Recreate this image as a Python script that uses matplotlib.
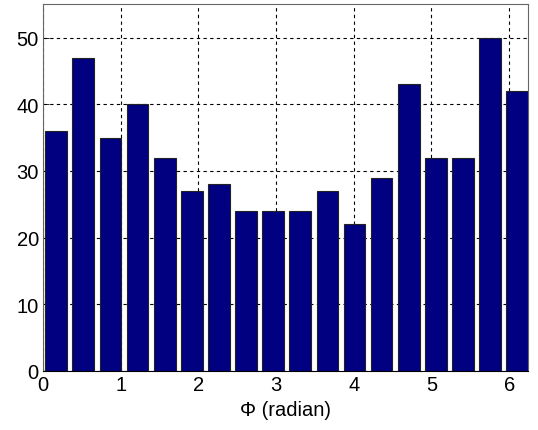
import matplotlib
matplotlib.use('Agg')
import matplotlib.pyplot as plt
import numpy as np

# histogram counts per angular bin
counts = [36, 47, 35, 40, 32, 27, 28, 24, 24, 24, 27, 22, 29, 43, 32, 32, 50, 42]
n_bins = len(counts)
bin_w = 2 * np.pi / n_bins
centers = (np.arange(n_bins) + 0.5) * bin_w - 0.005
xticks = [0, 1, 2, 3, 4, 5, 6]
yticks = [0, 10, 20, 30, 40, 50]

plt.rcParams['font.family'] = ['Liberation Sans', 'DejaVu Sans']

fig = plt.figure(figsize=(5.38, 4.31), dpi=100)
ax = fig.add_axes([0.080, 0.137, 0.901, 0.851])

ax.bar(centers, counts, width=bin_w * 0.8, color='#000080',
       edgecolor='#222222', linewidth=0.8, zorder=2)

ax.set_xlim(0, 6.24)
ax.set_ylim(0, 55)
ax.set_xticks(xticks)
ax.set_yticks(yticks)
ax.tick_params(direction='in', labelsize=14.5, length=4, width=0.6, pad=3)
ax.grid(True, color='black', linestyle=(0, (3, 3)), linewidth=0.8, zorder=1)
ax.set_axisbelow(True)
for s in ax.spines.values():
    s.set_color('#666666')
    s.set_linewidth(0.8)
ax.spines['bottom'].set_color('black')
ax.set_xlabel('Φ (radian)', fontsize=14.5, labelpad=4)

fig.savefig('out.png', dpi=100, facecolor='white')
